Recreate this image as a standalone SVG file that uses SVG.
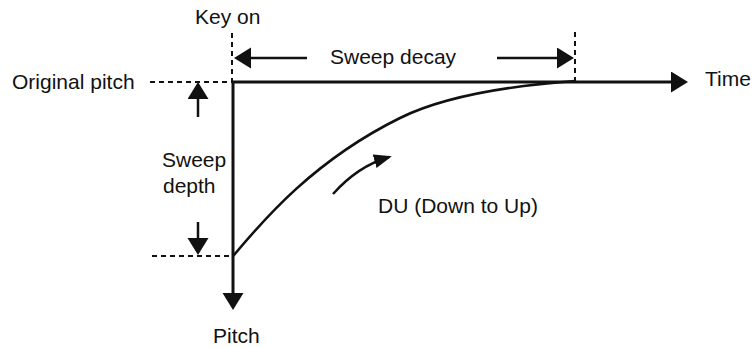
<svg xmlns="http://www.w3.org/2000/svg" width="754" height="347" viewBox="0 0 754 347">
<style>
text{font-family:"Liberation Sans",Arial,sans-serif;font-size:21px;fill:#111}
.axis{stroke:#111;stroke-width:3;fill:none}
.shaft{stroke:#111;stroke-width:2.5;fill:none}
.dash{stroke:#111;stroke-width:2;stroke-dasharray:5 4;fill:none}
.curve{stroke:#111;stroke-width:2.6;fill:none;stroke-linecap:round}
</style>
<defs>
<marker id="ah" markerUnits="userSpaceOnUse" markerWidth="18" markerHeight="22" refX="14" refY="10.5" orient="auto">
<path d="M0,0 L17,10.5 L0,21 z" fill="#111"/>
</marker>
<marker id="ahs" markerUnits="userSpaceOnUse" markerWidth="19" markerHeight="15" refX="15" refY="7" orient="auto">
<path d="M0,0 L18,7 L0,14 z" fill="#111"/>
</marker>
</defs>
<rect width="754" height="347" fill="#fff"/>
<g id="connectors">
<line class="dash" x1="232" y1="33" x2="232" y2="82"/>
<line class="dash" x1="575" y1="32" x2="575" y2="82"/>
<line class="dash" x1="150" y1="82" x2="232" y2="82"/>
<line class="dash" x1="152" y1="256" x2="233" y2="256"/>
<line class="axis" x1="233" y1="82" x2="685" y2="82" marker-end="url(#ah)"/>
<line class="axis" x1="233" y1="82" x2="233" y2="307" marker-end="url(#ah)"/>
<line class="shaft" x1="307" y1="58" x2="237" y2="58" marker-end="url(#ah)"/>
<line class="shaft" x1="497" y1="58" x2="571" y2="58" marker-end="url(#ah)"/>
<line class="shaft" x1="198" y1="117" x2="198" y2="85" marker-end="url(#ah)"/>
<line class="shaft" x1="198" y1="222" x2="198" y2="252" marker-end="url(#ah)"/>
<path class="curve" d="M234,255 C265,218 315,160 400,118 C450,93.3 520,85 575,81"/>
<path class="shaft" d="M333,194 Q358,166 389,157" marker-end="url(#ahs)"/>
</g>
<g id="key-on"><text x="195" y="24">Key on</text></g>
<g id="sweep-decay"><text x="330" y="64">Sweep decay</text></g>
<g id="time"><text x="705" y="86">Time</text></g>
<g id="original-pitch"><text x="12" y="89">Original pitch</text></g>
<g id="sweep-depth"><text x="162" y="167">Sweep</text><text x="163" y="193">depth</text></g>
<g id="du"><text x="378" y="213">DU (Down to Up)</text></g>
<g id="pitch"><text x="213" y="343">Pitch</text></g>
</svg>
